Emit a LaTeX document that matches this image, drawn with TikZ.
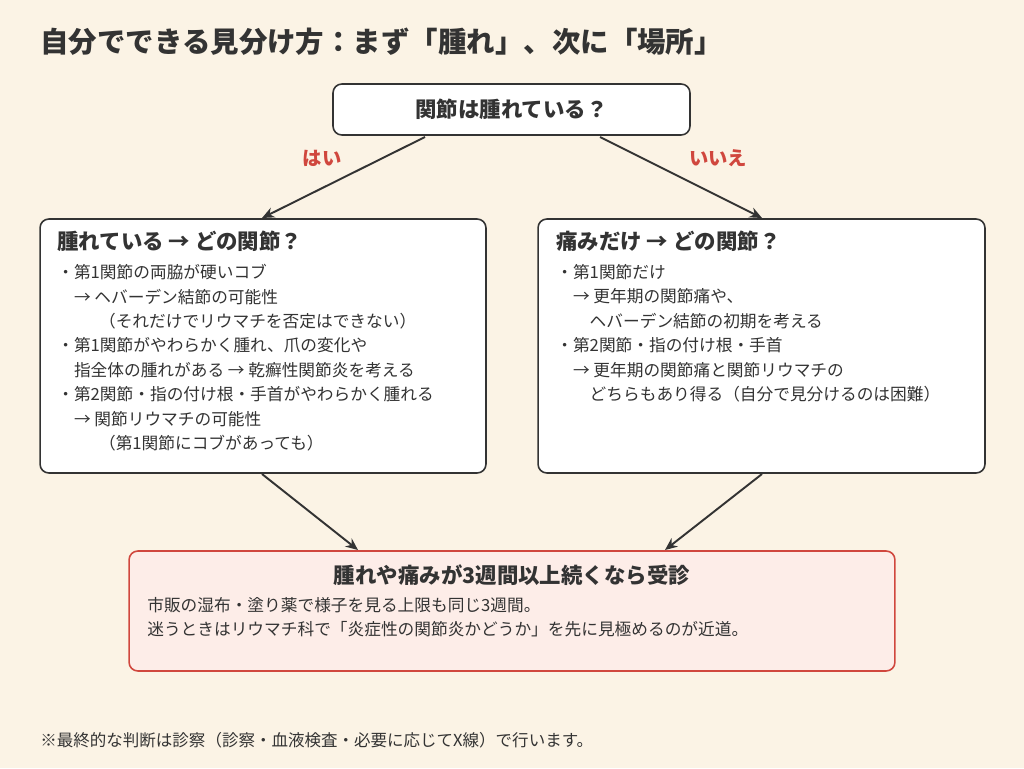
\documentclass[tikz,border=0pt]{standalone}
\usepackage{fontspec}
\setmainfont{Noto Sans CJK JP}
\usetikzlibrary{arrows.meta,positioning}
\definecolor{bgcream}{HTML}{FBF3E5}
\definecolor{inkgray}{HTML}{333333}
\definecolor{alertred}{HTML}{D0473E}
\definecolor{pinkfill}{HTML}{FDEDE8}
\tikzset{
  box/.style={draw=inkgray, line width=0.9pt, rounded corners=5pt, fill=white},
  flow/.style={draw=inkgray, line width=1.1pt, -{Stealth[length=7pt,width=6pt]}},
  head/.style={anchor=west, font=\fontsize{12.2}{14}\selectfont\bfseries, text=inkgray, inner sep=0pt},
  body/.style={anchor=north west, align=left, font=\fontsize{9.5}{13.9}\selectfont, text=inkgray, inner sep=0pt},
  answer/.style={font=\fontsize{11}{13}\selectfont\bfseries, text=alertred},
}
\begin{document}
\begin{tikzpicture}[x=0.02cm,y=-0.02cm]
\fill[bgcream] (0,0) rectangle (1024,768);
\useasboundingbox (0,0) rectangle (1024,768);
% title
\node[anchor=west, inner sep=0pt, font=\fontsize{16.2}{18}\selectfont\bfseries, text=inkgray] (title) at (40,42) {自分でできる見分け方：まず「腫れ」、次に「場所」};
% boxes
\node[box, minimum width=7.14cm, minimum height=1.02cm, font=\fontsize{12.2}{14}\selectfont\bfseries, text=inkgray] (q) at (511.5,109.5) {関節は腫れている？};
\node[box, minimum width=8.92cm, minimum height=5.08cm] (yes) at (263,346) {};
\node[box, minimum width=8.94cm, minimum height=5.08cm] (no) at (761.5,346) {};
\node[box, draw=alertred, fill=pinkfill, minimum width=15.32cm, minimum height=2.4cm] (visit) at (512,611) {};
% answers
\node[answer] (yeslbl) at (322,158) {はい};
\node[answer] (nolbl) at (718,158) {いいえ};
% left box text
\node[head] (yeshead) at (57,241) {腫れている → どの関節？};
\node[body] (yesbody) at (57,264) {・第1関節の両脇が硬いコブ\\
\hspace{1em}→ ヘバーデン結節の可能性\\
\hspace{2.5em}（それだけでリウマチを否定はできない）\\
・第1関節がやわらかく腫れ、爪の変化や\\
\hspace{1em}指全体の腫れがある → 乾癬性関節炎を考える\\
・第2関節・指の付け根・手首がやわらかく腫れる\\
\hspace{1em}→ 関節リウマチの可能性\\
\hspace{2.5em}（第1関節にコブがあっても）};
% right box text
\node[head] (nohead) at (556,241) {痛みだけ → どの関節？};
\node[body] (nobody) at (556,264) {・第1関節だけ\\
\hspace{1em}→ 更年期の関節痛や、\\
\hspace{2em}ヘバーデン結節の初期を考える\\
・第2関節・指の付け根・手首\\
\hspace{1em}→ 更年期の関節痛と関節リウマチの\\
\hspace{2em}どちらもあり得る（自分で見分けるのは困難）};
% bottom box text
\node[font=\fontsize{12.2}{14}\selectfont\bfseries, text=inkgray] (visithead) at (512,575) {腫れや痛みが3週間以上続くなら受診};
\node[body] (visitbody) at (147,597) {市販の湿布・塗り薬で様子を見る上限も同じ3週間。\\
迷うときはリウマチ科で「炎症性の関節炎かどうか」を先に見極めるのが近道。};
% footnote
\node[anchor=west, inner sep=0pt, font=\fontsize{9.4}{11}\selectfont, text=inkgray] (note) at (40,740) {※最終的な判断は診察（診察・血液検査・必要に応じてX線）で行います。};
% connectors
\coordinate (qL) at (425,137);
\coordinate (qR) at (600,137);
\coordinate (yesT) at (262,218);
\coordinate (noT) at (762,218);
\coordinate (yesB) at (262,474);
\coordinate (noB) at (762,474);
\coordinate (visitL) at (358,550);
\coordinate (visitR) at (665,550);
\draw[flow] (qL) -- (yesT);
\draw[flow] (qR) -- (noT);
\draw[flow] (yesB) -- (visitL);
\draw[flow] (noB) -- (visitR);
\end{tikzpicture}
\end{document}
